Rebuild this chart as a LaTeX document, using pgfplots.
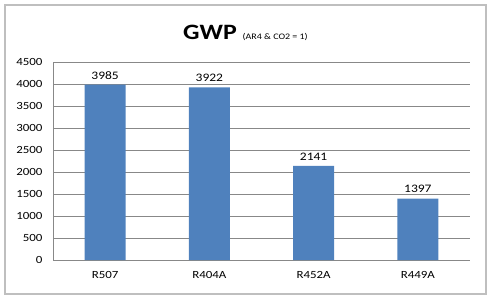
\documentclass[border=0pt]{standalone}
\usepackage{fontspec}
\setmainfont{Carlito}[FakeStretch=1.18]
\usepackage{pgfplots}
\pgfplotsset{compat=1.18}
\definecolor{barblue}{HTML}{4F81BD}
\definecolor{gridgray}{HTML}{888888}
\definecolor{framegray}{HTML}{BFBFBF}
\begin{document}
\begin{tikzpicture}[x=1bp,y=1bp]
\path[use as bounding box] (0,0) rectangle (492,301);
\draw[framegray, line width=1.2bp] (5,7) rectangle (486,296);
\begin{axis}[
  at={(53bp,41bp)}, anchor=south west,
  scale only axis, width=417bp, height=198bp,
  ybar, bar width=41bp,
  xmin=-0.5, xmax=3.5, ymin=0, ymax=4500,
  ytick={0,500,...,4500},
  xtick=data, xticklabels={R507,R404A,R452A,R449A},
  ymajorgrids, grid style={gridgray, line width=0.7bp},
  axis x line*=bottom, axis y line*=left,
  axis line style={gridgray, line width=0.7bp},
  major tick length=0pt,
  tick label style={font=\fontsize{11}{13}\selectfont},
  yticklabel style={xshift=-7bp},
  xticklabel style={yshift=-8bp},
  /pgf/number format/assume math mode=true,
  /pgf/number format/1000 sep={},
  nodes near coords,
  nodes near coords style={font=\fontsize{11.5}{13}\selectfont, /pgf/number format/1000 sep={}, /pgf/number format/assume math mode=true, yshift=2bp},
  clip=false,
]
\addplot[fill=barblue, draw=none] coordinates {(0,3985) (1,3922) (2,2141) (3,1397)};
\node[anchor=base, inner sep=0pt] at (axis description cs:0.4616,1.116) {\fontsize{22}{26}\selectfont\bfseries GWP\ \fontsize{8.5}{10}\selectfont\mdseries (AR4 \& CO2 = 1)};
\end{axis}
\end{tikzpicture}
\end{document}
